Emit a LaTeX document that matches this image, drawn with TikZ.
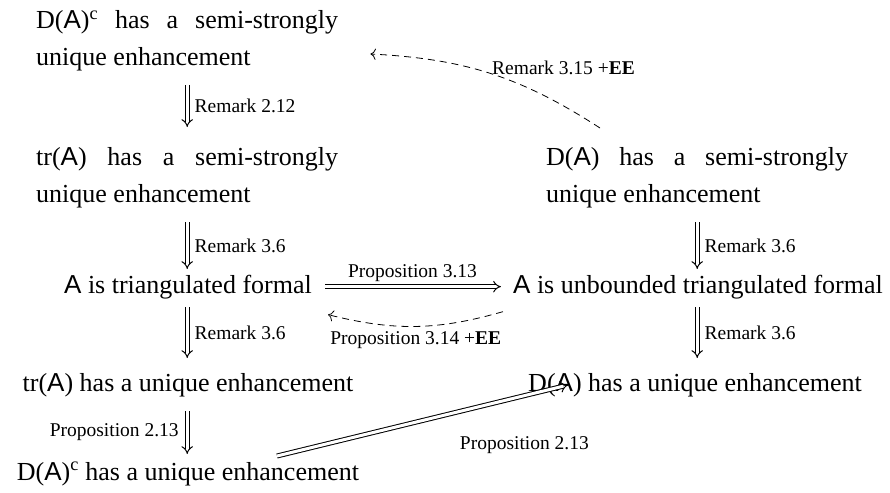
\documentclass[tikz,border=0pt]{standalone}
\usepackage{fontspec}
\setmainfont{Liberation Serif}
\newfontfamily\sfAfont{Liberation Sans}
\usetikzlibrary{arrows.meta,calc}
\newcommand\As{{\sfAfont A}}
\begin{document}
\begin{tikzpicture}[x=1pt,y=-1pt,
  txt/.style={inner sep=0pt, font=\fontsize{26}{37}\selectfont},
  blk/.style={txt, text width=302pt, align=justify, anchor=base west},
  lab/.style={inner sep=2pt, font=\fontsize{19.5}{23}\selectfont},
  imp/.style={double, double distance=3pt, line width=1pt, -{Implies}},
  dsh/.style={dash pattern=on 7pt off 5pt, line width=0.8pt, -{To[scale=1.6]}},
]
\useasboundingbox (0,0) rectangle (890,492);

\node[blk] (n1) at (36,29) {D(\As)\textsuperscript{c} has a semi-strongly\linebreak unique enhancement};
\node[blk] (n2) at (36,165) {tr(\As) has a semi-strongly\linebreak unique enhancement};
\node[blk] (n6) at (546,165) {D(\As) has a semi-strongly\linebreak unique enhancement};
\node[txt, anchor=base] (n3) at (188,293) {\As{} is triangulated formal};
\node[txt, anchor=base] (n7) at (698,293) {\As{} is unbounded triangulated formal};
\node[txt, anchor=base] (n4) at (188,391) {tr(\As) has a unique enhancement};
\node[txt, anchor=base] (n8) at (695,391) {D(\As) has a unique enhancement};
\node[txt, anchor=base] (n5) at (188,480) {D(\As)\textsuperscript{c} has a unique enhancement};

\draw[imp] ($(n1.base)+(0,56)$) -- ($(n2.base)+(0,-38)$)
  node[lab, midway, right=5pt] {Remark 2.12};
\draw[imp] ($(n2.base)+(0,57)$) -- ($(n3.base -| n2.base)+(0,-24)$)
  node[lab, midway, right=5pt] {Remark 3.6};
\draw[imp] ($(n3.base -| n2.base)+(0,14)$) -- ($(n4.base -| n2.base)+(0,-33)$)
  node[lab, midway, right=5pt] {Remark 3.6};
\draw[imp] ($(n4.base -| n2.base)+(0,20)$) -- ($(n5.base -| n2.base)+(0,-26)$)
  node[lab, midway, left=6pt] {Proposition 2.13};
\draw[imp] ($(n6.base)+(0,57)$) -- ($(n7.base -| n6.base)+(0,-24)$)
  node[lab, midway, right=5pt] {Remark 3.6};
\draw[imp] ($(n7.base -| n6.base)+(0,14)$) -- ($(n8.base -| n6.base)+(0,-33)$)
  node[lab, midway, right=5pt] {Remark 3.6};

\draw[imp, shorten <=13pt, shorten >=12pt] (n3.east) -- (n7.west)
  node[lab, midway, above=3pt] {Proposition 3.13};
\draw[dsh] ($(n7.west)+(-10,25)$) to[bend left=15]
  node[lab, midway, below=3pt] {Proposition 3.14 +\textbf{EE}}
  ($(n3.east)+(16,28)$);
\draw[dsh] ($(n6.base west)+(54,-37)$) to[bend right=15]
  node[lab, pos=0.5, anchor=south west, inner sep=1pt, yshift=-3pt] {Remark 3.15 +\textbf{EE}}
  ($(n1.base east)+(32,25)$);
\draw[imp] ($(n5.base)+(89,-24)$) -- ($(n8.base west)+(40,-6)$)
  node[lab, pos=0.85, below=38pt] {Proposition 2.13};
\end{tikzpicture}
\end{document}
